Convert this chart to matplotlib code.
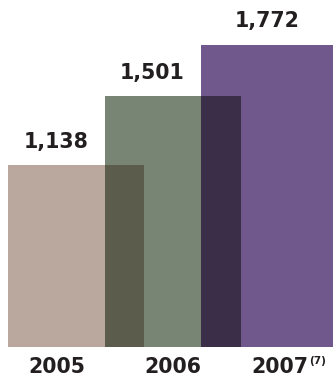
import matplotlib
matplotlib.use("Agg")
import matplotlib.pyplot as plt

years = ["2005", "2006", "2007"]
values = [1138, 1501, 1772]
value_labels = ["1,138", "1,501", "1,772"]
footnote = "(7)"

bar_colors = ["#baa89e", "#788474", "#70578c"]
overlap_colors = ["#5c5c4c", "#3a2e48"]
text_color = "#231f20"

W, H = 333, 376
fig = plt.figure(figsize=(W / 100, H / 100), dpi=100)
ax = fig.add_axes([0, 1 - 347 / H, 1, 347 / H])

width = 1.409
xs = list(range(len(values)))
ax.bar(xs, values, width=width, color=bar_colors, linewidth=0)
# overlapping regions (darker)
ov_x = [(xs[i] + xs[i + 1]) / 2 for i in range(len(xs) - 1)]
ov_h = [min(values[i], values[i + 1]) for i in range(len(xs) - 1)]
ax.bar(ov_x, ov_h, width=width - 1, color=overlap_colors, linewidth=0)

ax.set_xlim(-0.788, 2.663)
ax.set_ylim(179, 2007)
ax.axis("off")

fs = 14.8
val_off = [-0.207, -0.212, -0.015]
for i, (v, lab) in enumerate(zip(values, value_labels)):
    ax.annotate(lab, xy=(xs[i] + val_off[i], v), xytext=(0, 12.5),
                textcoords="offset points", ha="center", va="baseline",
                fontsize=fs, fontweight="bold", color=text_color,
                family="DejaVu Sans")

year_off = [-0.2, 0.005, 0.114]
for i, y in enumerate(years):
    ax.annotate(y, xy=(xs[i] + year_off[i], 0), xycoords=("data", "axes fraction"),
                xytext=(0, -26 * 0.72), textcoords="offset points",
                ha="center", va="baseline", fontsize=fs, fontweight="bold",
                color=text_color, family="DejaVu Sans", annotation_clip=False)

# footnote superscript on last year
ax.annotate(footnote, xy=(xs[-1] + year_off[-1], 0), xycoords=("data", "axes fraction"),
            xytext=(29 * 0.72, -17 * 0.72), textcoords="offset points",
            ha="left", va="baseline", fontsize=7.5, fontweight="bold",
            color=text_color, family="DejaVu Sans", annotation_clip=False)

fig.savefig("out.png", dpi=100)
